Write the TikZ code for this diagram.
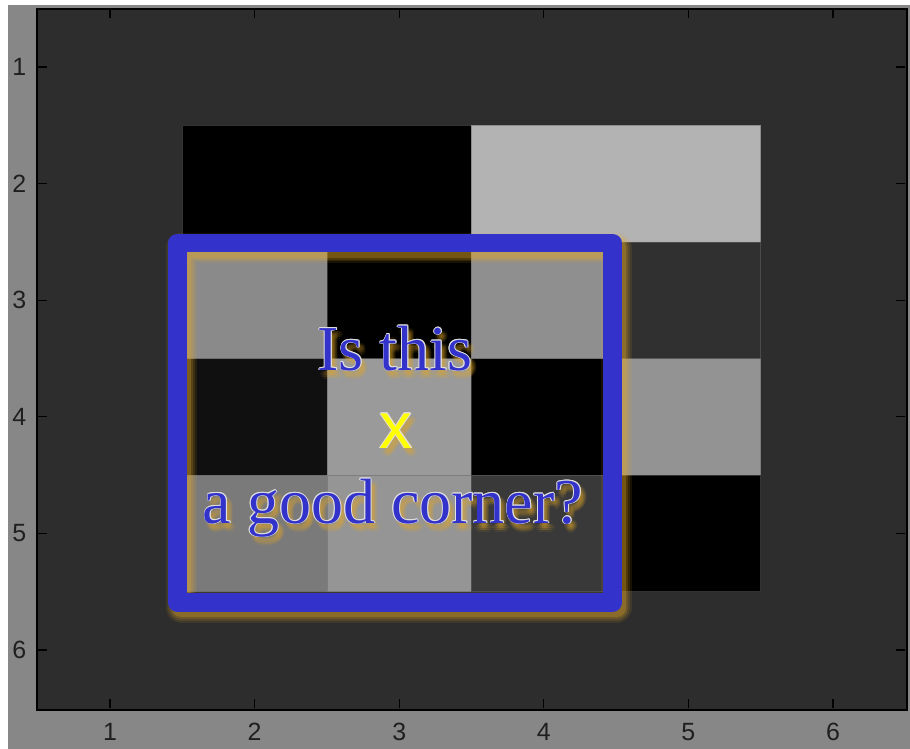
\documentclass[tikz,border=0pt]{standalone}
\usepackage{fontspec}
\setmainfont{Liberation Serif}
\setsansfont{Liberation Sans}
\definecolor{figgray}{RGB}{135, 135, 135}
\definecolor{axbg}{RGB}{45, 45, 45}
\definecolor{boxblue}{RGB}{51, 51, 204}
\definecolor{glowc}{RGB}{230, 170, 40}
\definecolor{markyellow}{RGB}{255, 255, 0}
\usetikzlibrary{calc}

% text with a soft golden glow and a thin white rim
\newcommand{\glowlabel}[5]{%
    \foreach \dx/\dy in {2/3, 4/3, 6/3, 1/5, 3/5, 5/5, 7/5, 2/7, 4/7, 6/7, 4/9}
        \node[gtext, text=glowc, opacity=0.09, font=#3] (#1glow) at ($(#2)+(\dx,\dy)$) {#5};
    \foreach \dx/\dy in {-0.8/0, 0.8/0, 0/-0.8, 0/0.8, -0.55/-0.55, 0.55/-0.55, -0.55/0.55, 0.55/0.55}
        \node[gtext, text=white!88!black, font=#3] (#1rim) at ($(#2)+(\dx,\dy)$) {#5};
    \node[gtext, text=#4, font=#3] (#1) at (#2) {#5};
}

\begin{document}
\begin{tikzpicture}[
        x=0.1mm, y=-0.1mm,
        gtext/.style={anchor=base, inner sep=0pt},
        frame/.style={draw=black, line width=0.45pt},
        tick/.style={draw=black, line width=0.35pt},
        ticklabel/.style={inner sep=0pt, font=\sffamily\fontsize{7.1}{8}\selectfont, text=black!88},
        cell/.style={draw=white!40!black, draw opacity=0.5, line width=0.15pt},
        cornerbox/.style={draw=boxblue, line width=5.25pt, line join=round},
        boxglow/.style={draw=glowc, line join=round}
    ]
    \useasboundingbox (0,0) rectangle (910,749);
    \fill[white] (0,0) rectangle (910,749);
    \fill[figgray] (8,5) rectangle (910,749);
    \fill[axbg] (37,9) rectangle (907,710);

    % image and axes, in data units
    \begin{scope}[shift={(-34.6,-49.6)}, x=14.46mm, y=-11.66mm]
        \foreach \u/\v/\w/\g in {1.5/1.5/2/0, 3.5/1.5/2/179,
                                 1.5/2.5/1/138, 2.5/2.5/1/0, 3.5/2.5/1/143, 4.5/2.5/1/48,
                                 1.5/3.5/1/16, 2.5/3.5/1/154, 3.5/3.5/1/0, 4.5/3.5/1/147,
                                 1.5/4.5/1/122, 2.5/4.5/1/149, 3.5/4.5/1/57, 4.5/4.5/1/0}
            \path[cell, fill={rgb,255:red,\g;green,\g;blue,\g}] (\u,\v) rectangle ++(\w,1);

        \foreach \t in {1,...,6} {
            \draw[tick] (\t,0.5) -- ++(0,0.077);
            \draw[tick] (\t,6.5) -- ++(0,-0.077);
            \draw[tick] (0.5,\t) -- ++(0.062,0);
            \draw[tick] (6.5,\t) -- ++(-0.062,0);
            \node[ticklabel] (xlab\t) at (\t,6.703) {\t};
            \node[ticklabel, anchor=east] (ylab\t) at (0.426,\t) {\t};
        }
    \end{scope}
    \draw[frame] (37,9) rectangle (907,710);

    % candidate window
    \coordinate (boxnw) at (177.5,243);
    \coordinate (boxse) at (612.5,602.5);
    \foreach \w/\o in {8.6/0.10, 7.6/0.13, 6.6/0.17, 5.6/0.25}
        \draw[boxglow, line width=\w pt, opacity=\o] ($(boxnw)+(4,5)$) rectangle ($(boxse)+(4,5)$);
    \draw[cornerbox] (boxnw) rectangle (boxse);

    \coordinate (questpos) at (395,370);
    \coordinate (markpos) at (396,448);
    \coordinate (cornerpos) at (393,523);
    \glowlabel{quest}{questpos}{\rmfamily\fontsize{18.2}{20}\selectfont}{boxblue}{Is this}
    \glowlabel{mark}{markpos}{\sffamily\fontsize{18.6}{20}\selectfont}{markyellow}{x}
    \glowlabel{corner}{cornerpos}{\rmfamily\fontsize{18.2}{20}\selectfont}{boxblue}{a good corner?}
\end{tikzpicture}
\end{document}
